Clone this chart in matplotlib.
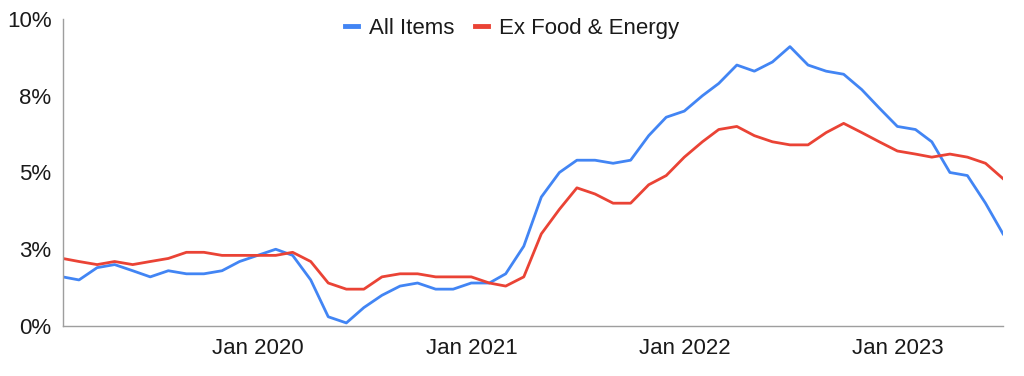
"""CPI year-over-year inflation: all items vs. ex food & energy."""

import matplotlib

matplotlib.use("Agg")

import matplotlib.dates as mdates
import matplotlib.pyplot as plt
import pandas as pd

plt.rcParams["font.family"] = ["Liberation Sans", "DejaVu Sans"]

# monthly readings, Jan 2019 .. Jun 2023 (dated at month end)
months = pd.date_range("2019-01-31", periods=54, freq="ME")
all_items = [
    1.6, 1.5, 1.9, 2.0, 1.8, 1.6, 1.8, 1.7, 1.7, 1.8, 2.1, 2.3,
    2.5, 2.3, 1.5, 0.3, 0.1, 0.6, 1.0, 1.3, 1.4, 1.2, 1.2, 1.4,
    1.4, 1.7, 2.6, 4.2, 5.0, 5.4, 5.4, 5.3, 5.4, 6.2, 6.8, 7.0,
    7.5, 7.9, 8.5, 8.3, 8.6, 9.1, 8.5, 8.3, 8.2, 7.7, 7.1, 6.5,
    6.4, 6.0, 5.0, 4.9, 4.0, 3.0,
]
ex_food_energy = [
    2.2, 2.1, 2.0, 2.1, 2.0, 2.1, 2.2, 2.4, 2.4, 2.3, 2.3, 2.3,
    2.3, 2.4, 2.1, 1.4, 1.2, 1.2, 1.6, 1.7, 1.7, 1.6, 1.6, 1.6,
    1.4, 1.3, 1.6, 3.0, 3.8, 4.5, 4.3, 4.0, 4.0, 4.6, 4.9, 5.5,
    6.0, 6.4, 6.5, 6.2, 6.0, 5.9, 5.9, 6.3, 6.6, 6.3, 6.0, 5.7,
    5.6, 5.5, 5.6, 5.5, 5.3, 4.8,
]
y_ticks = [0, 2.5, 5, 7.5, 10]
y_tick_labels = ["0%", "3%", "5%", "8%", "10%"]
x_ticks = pd.to_datetime(["2020-01-01", "2021-01-01", "2022-01-01", "2023-01-01"])

fig = plt.figure(figsize=(10.24, 3.76), dpi=100)
ax = fig.add_axes([0.0612, 0.133, 0.9183, 0.8165])

ax.plot(months, all_items, color="#4285F4", lw=2, label="All Items")
ax.plot(months, ex_food_energy, color="#EA4335", lw=2, label="Ex Food & Energy")

ax.set_xlim(months[0], months[-1])
ax.set_ylim(0, 10)
ax.set_yticks(y_ticks)
ax.set_yticklabels(y_tick_labels)
ax.set_xticks(x_ticks)
ax.xaxis.set_major_formatter(mdates.DateFormatter("%b %Y"))

for side in ("top", "right"):
    ax.spines[side].set_visible(False)
for side in ("left", "bottom"):
    ax.spines[side].set_color("#9e9e9e")
    ax.spines[side].set_linewidth(1)
ax.tick_params(length=0, labelsize=16, colors="#1a1a1a")
ax.tick_params(axis="y", pad=8)
ax.tick_params(axis="x", pad=9)

fig.legend(loc="center", bbox_to_anchor=(0.5, 0.925), ncol=2, frameon=False,
           fontsize=16, handlelength=0.6, handletextpad=0.5, columnspacing=0.9,
           labelcolor="#1a1a1a")
for h in fig.legends[0].legend_handles:
    h.set_linewidth(3.5)

fig.savefig("out.png", dpi=100)
plt.close(fig)
